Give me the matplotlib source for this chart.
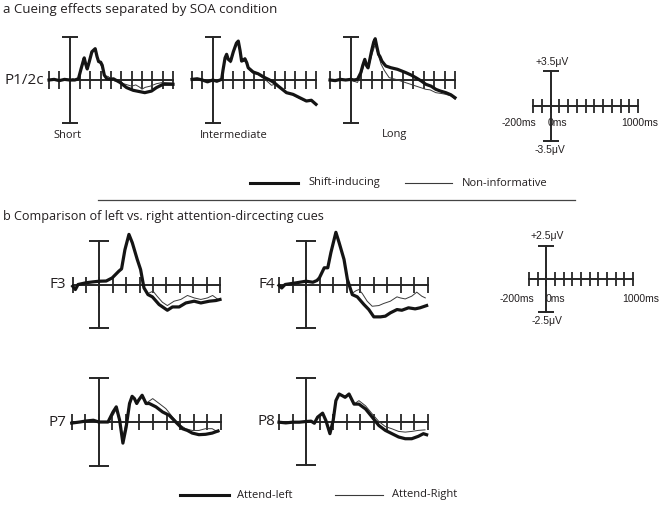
import matplotlib
matplotlib.use("Agg")
import matplotlib.pyplot as plt

plt.rcParams['font.family'] = ['Open Sans', 'DejaVu Sans']

W, H = 661, 505
INK = '#231f20'

# ---- waveforms, time in ms and amplitude in uV ----
# a: P1/2c, shift-inducing (thick) vs non-informative (thin)
short_t = [-200, -150, -100, -50, 0, 50, 85, 110, 130, 141, 155, 170, 190, 215, 247, 265, 280, 300, 315, 335, 360, 400, 423, 487, 551, 615, 680, 727, 792, 840, 904, 1000]
short_shift = [0.0, 0.05, -0.05, 0.05, 0.0, 0.0, 0.1, 0.9, 1.5, 1.8, 1.3, 0.9, 1.5, 2.3, 2.55, 1.9, 1.5, 1.45, 1.2, 0.4, 0.1, 0.05, 0.1, -0.2, -0.62, -0.84, -0.95, -1.03, -0.9, -0.62, -0.35, -0.35]
short_t2 = [-200, -150, -100, -50, 0, 30, 60, 85, 110, 141, 160, 175, 215, 247, 265, 290, 315, 340, 370, 400, 440, 480, 520, 560, 600, 640, 680, 700, 730, 780, 840, 900, 1000]
short_noninf = [0.05, 0.0, 0.05, 0.0, -0.05, 0.1, 0.0, 0.1, 0.8, 1.7, 1.1, 0.9, 2.2, 2.45, 1.8, 1.4, 1.0, 0.3, 0.3, 0.1, -0.1, 0.0, -0.3, -0.4, -0.5, -0.4, -0.6, -0.75, -0.6, -0.5, -0.3, -0.2, -0.25]

inter_t = [-200, -150, -100, -50, 0, 40, 87, 100, 120, 135, 150, 174, 200, 230, 248, 265, 280, 295, 312, 330, 344, 392, 440, 505, 540, 569, 600, 633, 680, 714, 778, 842, 907, 955, 1000]
inter_shift = [0.05, 0.1, 0.0, -0.15, 0.0, -0.1, 0.05, 0.8, 1.8, 2.09, 1.7, 1.54, 2.3, 3.0, 3.17, 2.4, 1.54, 1.6, 1.73, 1.4, 1.0, 0.65, 0.51, 0.19, 0.05, -0.08, -0.25, -0.49, -0.8, -1.03, -1.17, -1.44, -1.71, -1.65, -1.98]
inter_noninf = [0.0, 0.05, -0.05, -0.1, -0.05, -0.15, 0.0, 0.7, 1.7, 2.0, 1.6, 1.4, 2.2, 2.9, 3.05, 2.3, 1.5, 1.5, 1.6, 1.3, 0.9, 0.55, 0.45, 0.05, -0.2, -0.43, -0.35, -0.5, -0.85, -1.05, -1.2, -1.5, -1.75, -1.7, -2.0]

long_t = [-200, -150, -100, -50, 0, 30, 64, 96, 115, 134, 150, 166, 200, 220, 234, 250, 266, 280, 298, 320, 336, 384, 448, 528, 580, 624, 680, 720, 770, 816, 860, 912, 960, 1000]
long_shift = [0.0, -0.05, 0.05, 0.0, 0.05, 0.0, 0.05, 0.6, 1.2, 1.68, 1.2, 1.0, 2.4, 3.1, 3.36, 2.7, 2.09, 1.9, 1.54, 1.3, 1.14, 1.0, 0.87, 0.6, 0.4, 0.19, -0.1, -0.35, -0.5, -0.76, -0.9, -1.03, -1.2, -1.44]
long_t2 = [-200, -100, 0, 30, 64, 96, 134, 150, 166, 200, 234, 250, 266, 290, 320, 368, 432, 528, 624, 720, 760, 816, 870, 912, 960, 1000]
long_noninf = [0.0, 0.0, 0.0, -0.1, -0.2, 0.4, 1.41, 1.0, 0.9, 2.0, 2.9, 2.4, 1.95, 1.3, 0.8, 0.19, 0.05, -0.22, -0.49, -0.76, -0.8, -1.03, -1.1, -1.17, -1.3, -1.57]

# b: attend-left (thick) vs attend-right (thin)
f3_t = [-200, -180, -160, -100, -50, 0, 50, 95, 145, 165, 190, 220, 245, 282, 307, 332, 362, 395, 445, 507, 545, 595, 645, 707, 757, 820, 870, 900]
f3_left = [-0.1, -0.29, 0.0, 0.1, 0.15, 0.19, 0.2, 0.38, 0.77, 0.9, 2.0, 2.88, 2.4, 1.44, 0.86, -0.19, -0.58, -0.71, -1.15, -1.48, -1.29, -1.29, -1.06, -0.96, -1.06, -0.96, -0.92, -0.86]
f3_t2 = [-200, -180, -160, -100, -50, 0, 50, 95, 145, 165, 190, 220, 245, 282, 307, 332, 362, 400, 430, 470, 507, 557, 607, 657, 707, 757, 807, 845, 880]
f3_right = [-0.1, -0.25, 0.0, 0.1, 0.12, 0.15, 0.2, 0.36, 0.75, 0.9, 2.0, 2.85, 2.4, 1.44, 0.86, -0.19, -0.52, -0.38, -0.67, -1.02, -1.21, -0.96, -0.86, -0.63, -0.77, -0.86, -0.77, -0.63, -0.83]

f4_t = [-200, -180, -155, -70, 0, 50, 80, 98, 134, 160, 183, 220, 244, 280, 305, 341, 378, 427, 463, 500, 549, 585, 622, 671, 707, 756, 805, 841, 890]
f4_left = [-0.05, -0.2, 0.0, 0.1, 0.19, 0.13, 0.23, 0.38, 0.96, 0.96, 1.83, 3.0, 2.4, 1.44, 0.29, -0.58, -0.71, -1.15, -1.44, -1.86, -1.86, -1.82, -1.63, -1.44, -1.48, -1.34, -1.4, -1.34, -1.21]
f4_t2 = [-200, -180, -155, -70, 0, 50, 80, 98, 134, 160, 183, 220, 244, 280, 305, 341, 370, 390, 415, 451, 488, 537, 573, 622, 671, 695, 732, 780, 817, 854, 880]
f4_right = [-0.05, -0.18, 0.0, 0.1, 0.17, 0.13, 0.2, 0.36, 0.94, 0.96, 1.8, 2.95, 2.4, 1.44, 0.29, -0.5, -0.35, -0.29, -0.52, -0.96, -1.25, -1.21, -1.09, -0.96, -0.71, -0.77, -0.83, -0.67, -0.44, -0.67, -0.77]

p7_t = [-200, -140, -90, -40, 0, 68, 105, 129, 154, 178, 202, 227, 246, 263, 280, 295, 320, 349, 373, 422, 471, 520, 568, 617, 654, 690, 739, 788, 837, 880]
p7_left = [-0.06, 0.0, 0.06, 0.1, 0.0, 0.0, 0.57, 0.86, 0.1, -1.2, -0.29, 1.05, 1.46, 1.33, 1.05, 1.25, 1.52, 1.05, 1.05, 0.86, 0.57, 0.38, 0.0, -0.38, -0.48, -0.63, -0.72, -0.7, -0.63, -0.51]
p7_t2 = [-200, -140, -90, -40, 0, 68, 105, 129, 154, 178, 202, 227, 251, 280, 312, 354, 398, 446, 495, 544, 593, 641, 690, 739, 788, 837, 880]
p7_right = [-0.04, 0.0, 0.05, 0.08, 0.0, 0.0, 0.38, 0.71, 0.0, -0.86, 0.0, 1.14, 1.43, 1.14, 1.43, 1.09, 1.33, 1.05, 0.76, 0.29, -0.13, -0.38, -0.48, -0.48, -0.38, -0.38, -0.57]

p8_t = [-200, -150, -100, -50, 0, 37, 61, 85, 122, 146, 176, 200, 220, 244, 268, 288, 317, 354, 390, 439, 488, 537, 585, 634, 683, 732, 780, 829, 866, 890]
p8_left = [-0.04, -0.08, -0.04, -0.04, 0.0, 0.02, -0.1, 0.25, 0.48, 0.06, -0.7, 0.06, 1.2, 1.58, 1.48, 1.39, 1.58, 1.0, 1.0, 0.72, 0.25, -0.23, -0.51, -0.7, -0.89, -0.99, -0.99, -0.85, -0.7, -0.76]
p8_t2 = [-200, -150, -100, -50, 0, 37, 61, 85, 122, 146, 176, 200, 220, 244, 268, 300, 317, 354, 390, 439, 488, 537, 585, 634, 683, 732, 780, 829, 878]
p8_right = [-0.04, -0.06, -0.04, -0.02, 0.0, 0.02, -0.08, 0.22, 0.45, 0.06, -0.5, 0.1, 1.2, 1.54, 1.45, 1.5, 1.5, 1.0, 1.2, 0.9, 0.44, 0.0, -0.29, -0.42, -0.57, -0.61, -0.57, -0.51, -0.48]

top_ticks = list(range(-200, 1001, 100))
bottom_ticks = list(range(-200, 901, 100))


def px_axes(fig, x0, x1, y0, y1):
    ax = fig.add_axes([x0 / W, 1 - y1 / H, (x1 - x0) / W, (y1 - y0) / H])
    ax.axis('off')
    return ax


def cross(ax, xlim, ymax, ticks, tick_ms=13, cap_ms=11.5):
    ax.set_xlim(xlim)
    ax.set_ylim(-ymax, ymax)
    kw = dict(color='#262626', lw=1.4, clip_on=False)
    ax.plot(xlim, [0, 0], **kw)
    ax.plot([0, 0], [-ymax, ymax], **kw)
    ax.plot(ticks, [0] * len(ticks), ls='none', marker='|', ms=tick_ms,
            mew=1.3, color='#262626', clip_on=False)
    ax.plot([0, 0], [-ymax, ymax], ls='none', marker='_', ms=cap_ms,
            mew=1.4, color='#262626', clip_on=False)


def waves(ax, t1, v1, t2, v2):
    ax.plot(t2, v2, color='#3a3a3a', lw=0.7, clip_on=False, zorder=3)
    ax.plot(t1, v1, color='#141414', lw=2.3, clip_on=False, zorder=4)


def txt(fig, x, y, s, size=8.5, ha='left', family=None):
    kw = {}
    if family:
        kw['family'] = family
    fig.text(x / W, 1 - y / H, s, fontsize=size, ha=ha, va='center',
             color=INK, **kw)


fig = plt.figure(figsize=(W / 100, H / 100), dpi=100)

# ---------- part a ----------
txt(fig, 3, 10, 'a Cueing effects separated by SOA condition', 9.5)

for (x0, x1), t1, v1, t2, v2, lab, lx in [
        ((49, 173), short_t, short_shift, short_t2, short_noninf, 'Short', 53),
        ((192, 316), inter_t, inter_shift, inter_t, inter_noninf, 'Intermediate', 200),
        ((330, 455), long_t, long_shift, long_t2, long_noninf, 'Long', 382)]:
    ax = px_axes(fig, x0, x1, 37, 123)
    cross(ax, (-200, 1000), 3.5, top_ticks)
    waves(ax, t1, v1, t2, v2)
    txt(fig, lx, 135, lab, 8)

txt(fig, 4, 80, 'P1/2c', 11)

# scale bar a
ax = px_axes(fig, 533, 638, 71, 141)
cross(ax, (-200, 1000), 3.5, top_ticks, tick_ms=10, cap_ms=11.5)
sb = ['Liberation Sans', 'DejaVu Sans']
txt(fig, 552, 62, '+3.5\u03bcV', 7.5, 'center', sb)
txt(fig, 550, 150, '-3.5\u03bcV', 7.5, 'center', sb)
txt(fig, 519, 123, '-200ms', 7.5, 'center', sb)
txt(fig, 557, 123, '0ms', 7.5, 'center', sb)
txt(fig, 640, 123, '1000ms', 7.5, 'center', sb)

# legend a
lg = px_axes(fig, 0, W, 0, H)
lg.set_xlim(0, W)
lg.set_ylim(H, 0)
lg.plot([250, 298], [183, 183], color='#141414', lw=2.2)
lg.plot([405, 452], [183, 183], color='#3a3a3a', lw=0.8)
txt(fig, 308, 183, 'Shift-inducing', 8)
txt(fig, 462, 183, 'Non-informative', 8)
lg.plot([98, 575], [200, 200], color='#444444', lw=0.9)

# ---------- part b ----------
txt(fig, 3, 217, 'b Comparison of left vs. right attention-dircecting cues', 9.1)

for (x0, x1, y0, y1), t1, v1, t2, v2, lab, lx in [
        ((72.7, 220, 241, 328), f3_t, f3_left, f3_t2, f3_right, 'F3', 66),
        ((279, 428, 241, 328), f4_t, f4_left, f4_t2, f4_right, 'F4', 275),
        ((71.7, 220.7, 378, 466), p7_t, p7_left, p7_t2, p7_right, 'P7', 66),
        ((279, 428, 378, 465), p8_t, p8_left, p8_t2, p8_right, 'P8', 275)]:
    ax = px_axes(fig, x0, x1, y0, y1)
    cross(ax, (-200, 900), 2.5, bottom_ticks, tick_ms=12, cap_ms=14)
    waves(ax, t1, v1, t2, v2)
    txt(fig, lx, (y0 + y1) / 2, lab, 11, 'right')

# scale bar b
ax = px_axes(fig, 529, 633, 246, 312)
cross(ax, (-200, 1000), 2.5, top_ticks, tick_ms=10, cap_ms=11.5)
txt(fig, 547, 236, '+2.5\u03bcV', 7.5, 'center', sb)
txt(fig, 547, 321, '-2.5\u03bcV', 7.5, 'center', sb)
txt(fig, 517, 299, '-200ms', 7.5, 'center', sb)
txt(fig, 555, 299, '0ms', 7.5, 'center', sb)
txt(fig, 641, 299, '1000ms', 7.5, 'center', sb)

# legend b
lg.plot([180, 229], [495, 495], color='#141414', lw=2.2)
lg.plot([335, 383], [495, 495], color='#3a3a3a', lw=0.8)
txt(fig, 237, 495, 'Attend-left', 8)
txt(fig, 392, 495, 'Attend-Right', 8)

fig.savefig('out.png', dpi=100)
